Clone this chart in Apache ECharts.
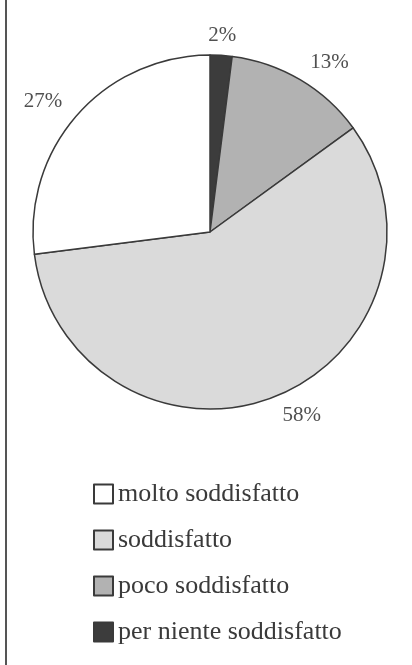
<!DOCTYPE html>
<html>
<head>
<meta charset="utf-8">
<script src="https://cdn.jsdelivr.net/npm/echarts@6/dist/echarts.min.js"></script>
<style>
  html, body { margin: 0; padding: 0; background: #fff; }
  #chart { width: 412px; height: 665px; }
</style>
</head>
<body>
<div id="chart"></div>
<script>
// clockwise from 12 o'clock
var categories = ['per niente soddisfatto', 'poco soddisfatto', 'soddisfatto', 'molto soddisfatto'];
var values = [2, 13, 58, 27];
var colors = ['#3c3c3c', '#b2b2b2', '#dadada', '#ffffff'];
var legendOrder = ['molto soddisfatto', 'soddisfatto', 'poco soddisfatto', 'per niente soddisfatto'];

var serif = '"Liberation Serif", "DejaVu Serif", serif';
var cx = 210, cy = 232, radius = 177;

var pieData = [];
var total = 0;
for (var i = 0; i < categories.length; i++) {
  total += values[i];
  pieData.push({
    name: categories[i],
    value: values[i],
    itemStyle: { color: colors[i] }
  });
}

// anchor each label just outside the middle of its slice,
// centred near the top, otherwise pushed away from the pie
function labelPos(idx) {
  var before = 0;
  for (var j = 0; j < idx; j++) before += values[j];
  var mid = (before + values[idx] / 2) / total * Math.PI * 2;
  var r = radius + 20;
  var s = Math.sin(mid);
  var align = Math.abs(s) < 0.2 ? 'center' : (s > 0 ? 'left' : 'right');
  return { x: cx + r * s, y: cy - r * Math.cos(mid), align: align };
}

var mychart = echarts.init(document.getElementById('chart'));
var option = {
  animation: false,
  backgroundColor: '#ffffff',
  graphic: [{
    type: 'line',
    shape: { x1: 6, y1: 0, x2: 6, y2: 665 },
    style: { stroke: '#555', lineWidth: 2 }
  }],
  legend: {
    orient: 'vertical',
    left: 88,
    top: 476,
    itemGap: 20,
    itemWidth: 19,
    itemHeight: 19,
    icon: 'rect',
    data: legendOrder,
    textStyle: {
      fontFamily: serif,
      fontSize: 26,
      color: '#3a3a3a'
    }
  },
  series: [{
    type: 'pie',
    center: [cx, cy],
    radius: radius,
    startAngle: 90,
    clockwise: true,
    data: pieData,
    itemStyle: {
      borderColor: '#3a3a3a',
      borderWidth: 1.5
    },
    label: {
      show: true,
      position: 'outside',
      formatter: '{c}%',
      fontFamily: serif,
      fontSize: 21,
      color: '#505050',
      overflow: 'none'
    },
    labelLine: { show: false },
    labelLayout: function (params) {
      var p = labelPos(params.dataIndex);
      return { x: p.x, y: p.y, align: p.align, verticalAlign: 'middle' };
    }
  }]
};
mychart.setOption(option);
window.onresize = mychart.resize;
</script>
</body>
</html>
